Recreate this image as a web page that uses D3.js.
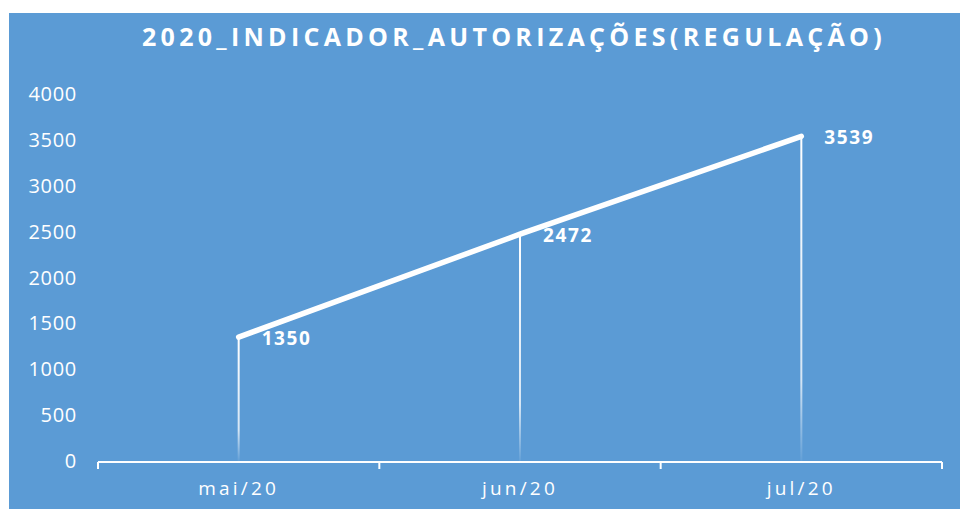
<!DOCTYPE html>
<html>
<head>
	<meta charset="utf-8">
	<title>2020_INDICADOR_AUTORIZAÇÕES(REGULAÇÃO)</title>
	<script src="https://d3js.org/d3.v7.min.js"></script>
	<style>
		body { margin: 0; background: #fff; }
		text { font-family: "Open Sans", "DejaVu Sans", sans-serif; fill: #fff; }
	</style>
</head>
<body>
	<script>
		// chart data
		const months = ['mai/20', 'jun/20', 'jul/20'];
		const values = [1350, 2472, 3539];
		const yTicks = [0, 500, 1000, 1500, 2000, 2500, 3000, 3500, 4000];

		const W = 960, H = 509;
		const margin = { top: 94, right: 18, bottom: 47, left: 98 };

		const svg = d3.select('body').append('svg')
			.attr('width', W)
			.attr('height', H);

		// blue panel
		svg.append('rect')
			.attr('x', 9).attr('y', 13)
			.attr('width', W - 9).attr('height', H - 13)
			.attr('fill', '#5b9bd5');

		const x = d3.scaleBand()
			.domain(months)
			.range([margin.left, W - margin.right]);

		const y = d3.scaleLinear()
			.domain([0, 4000])
			.range([H - margin.bottom - 1, margin.top]);

		// gradient for drop lines
		const grad = svg.append('defs').append('linearGradient')
			.attr('id', 'fade')
			.attr('x1', 0).attr('y1', 0).attr('x2', 0).attr('y2', 1);
		grad.append('stop').attr('offset', '0%').attr('stop-color', '#fff').attr('stop-opacity', 1);
		grad.append('stop').attr('offset', '75%').attr('stop-color', '#fff').attr('stop-opacity', 0.75);
		grad.append('stop').attr('offset', '100%').attr('stop-color', '#fff').attr('stop-opacity', 0.05);

		// title
		svg.append('text')
			.attr('x', 514).attr('y', 46)
			.attr('text-anchor', 'middle')
			.style('font-size', '25px')
			.style('font-weight', 'bold')
			.style('letter-spacing', '4.3px')
			.text('2020_INDICADOR_AUTORIZAÇÕES(REGULAÇÃO)');

		// y labels (no axis line)
		svg.append('g')
			.selectAll('text')
			.data(yTicks)
			.enter()
			.append('text')
			.attr('x', 77)
			.attr('y', d => y(d) + 7)
			.attr('text-anchor', 'end')
			.style('font-size', '20px')
			.style('letter-spacing', '0.7px')
			.text(d => d);

		// x axis
		const xAxis = svg.append('g')
			.attr('transform', `translate(0, ${y(0) + 1})`);
		xAxis.append('line')
			.attr('x1', x.range()[0]).attr('x2', x.range()[1])
			.attr('stroke', '#fff').attr('stroke-width', 2);
		const edges = months.map(m => x(m)).concat([x.range()[1]]);
		xAxis.selectAll('.tick')
			.data(edges)
			.enter()
			.append('line')
			.attr('x1', d => d).attr('x2', d => d)
			.attr('y1', 0).attr('y2', 7)
			.attr('stroke', '#fff').attr('stroke-width', 2);
		xAxis.selectAll('.lbl')
			.data(months)
			.enter()
			.append('text')
			.attr('x', d => x(d) + x.bandwidth() / 2)
			.attr('y', 33)
			.attr('text-anchor', 'middle')
			.style('font-size', '19px')
			.style('letter-spacing', '3.2px')
			.text(d => d);

		const cx = d => x(d) + x.bandwidth() / 2;

		// drop lines
		svg.selectAll('.drop')
			.data(months)
			.enter()
			.append('rect')
			.attr('x', d => cx(d) - 1)
			.attr('y', (d, i) => y(values[i]))
			.attr('width', 2)
			.attr('height', (d, i) => y(0) - y(values[i]))
			.attr('fill', 'url(#fade)');

		// line
		const line = d3.line()
			.x((d, i) => cx(months[i]))
			.y(d => y(d));
		svg.append('path')
			.datum(values)
			.attr('d', line)
			.attr('fill', 'none')
			.attr('stroke', '#fff')
			.attr('stroke-width', 5.5)
			.attr('stroke-linecap', 'round')
			.attr('stroke-linejoin', 'round');

		// data labels
		svg.selectAll('.val')
			.data(values)
			.enter()
			.append('text')
			.attr('x', (d, i) => cx(months[i]) + 23)
			.attr('y', d => y(d) + 8)
			.style('font-size', '19px')
			.style('font-weight', 'bold')
			.style('letter-spacing', '1.6px')
			.text(d => d);
	</script>
</body>
</html>
